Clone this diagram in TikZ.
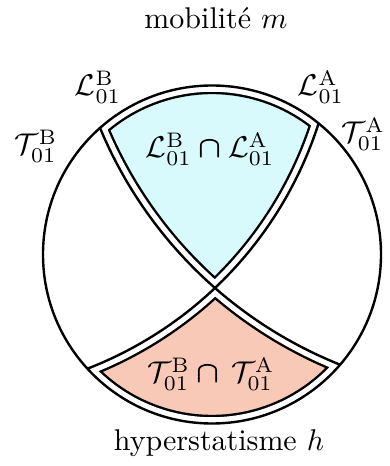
\documentclass[tikz,border=0pt]{standalone}
\usepackage{amsmath}
\definecolor{cyanfill}{RGB}{216,250,252}
\definecolor{salmonfill}{RGB}{249,201,184}
\begin{document}
\begin{tikzpicture}[x=1pt,y=1pt,
  outline/.style={line width=2.4pt, black},
  lbl/.style={inner sep=0pt, scale=3},
  topshape/.style={insert path={(P1) arc[start angle=131.5,end angle=50.9,radius=169pt]
      arc[start angle=-17.80,end angle=-46.57,radius=391.45pt]
      arc[start angle=228.78,end angle=202.60,radius=435.2pt] -- cycle}},
  botshape/.style={insert path={(Q2) arc[start angle=222.5,end angle=319.3,radius=169pt]
      arc[start angle=248.19,end angle=228.78,radius=435.2pt]
      arc[start angle=-46.57,end angle=-68.81,radius=391.45pt] -- cycle}},
  gapblack/.style={line width=17.4pt, black, line join=round},
  gapwhite/.style={line width=12.6pt, white, line join=round},
]
\useasboundingbox (0,0) rectangle (389,466);
\coordinate (C) at (212,211.5);
\coordinate (P1) at (100.0,338.1);
\coordinate (P2) at (318.6,342.6);
\coordinate (Q1) at (340.1,101.3);
\coordinate (Q2) at (87.4,97.3);
\coordinate (X) at (215,178);

% top region
\fill[cyanfill, topshape];
\begin{scope}
  \clip[topshape];
  \draw[gapblack, topshape];
  \draw[gapwhite, topshape];
\end{scope}
% bottom region
\fill[salmonfill, botshape];
\begin{scope}
  \clip[botshape];
  \draw[gapblack, botshape];
  \draw[gapwhite, botshape];
\end{scope}

% outer circle and separators
\draw[outline] (C) circle[radius=169pt];
\draw[outline] (P1) arc[start angle=202.60,end angle=248.19,radius=435.2pt];
\draw[outline] (P2) arc[start angle=-17.80,end angle=-68.81,radius=391.45pt];

% labels
\node[lbl, anchor=base] (mob) at (216,437) {mobilité $m$};
\node[lbl, anchor=base] (hyp) at (219,16) {hyperstatisme $h$};
\node[lbl] (LB) at (98,379) {$\mathcal{L}^{\mathrm{B}}_{01}$};
\node[lbl] (LA) at (321,379) {$\mathcal{L}^{\mathrm{A}}_{01}$};
\node[lbl] (TB) at (36,320) {$\mathcal{T}^{\mathrm{B}}_{01}$};
\node[lbl, anchor=west] (TA) at (341,332) {$\mathcal{T}^{\mathrm{A}}_{01}$};
\node[lbl] (LL) at (210,317) {$\mathcal{L}^{\mathrm{B}}_{01}\mathbin{\boldsymbol{\cap}}\mathcal{L}^{\mathrm{A}}_{01}$};
\node[lbl] (TT) at (211,92) {$\mathcal{T}^{\mathrm{B}}_{01}\mathbin{\boldsymbol{\cap}}\,\mathcal{T}^{\mathrm{A}}_{01}$};
\end{tikzpicture}
\end{document}
